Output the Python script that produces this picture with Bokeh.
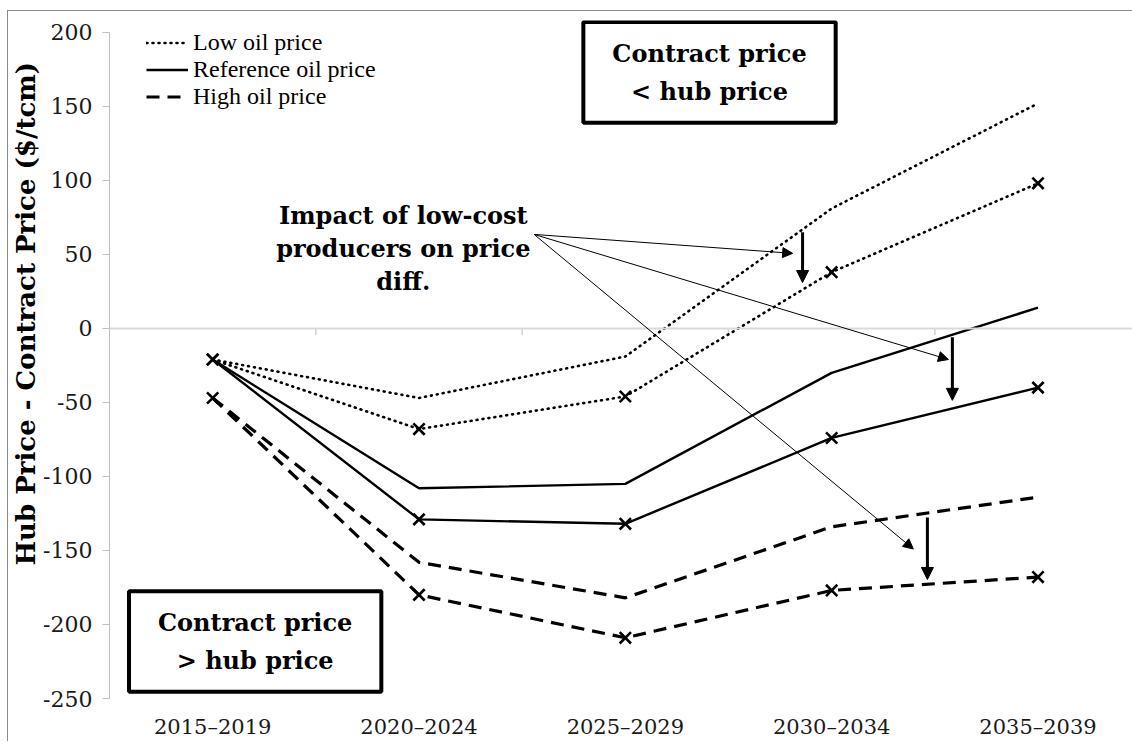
from bokeh.plotting import figure
from bokeh.layouts import column
from bokeh.models import (Range1d, FixedTicker, Span, Legend, LegendItem, Label,
                          Arrow, NormalHead, Title)
from bokeh.embed import file_html
from bokeh.resources import INLINE

# ---------------- data ----------------
categories = ["2015\u20132019", "2020\u20132024", "2025\u20132029", "2030\u20132034", "2035\u20132039"]
low_oil = [-21, -47, -19, 81, 152]            # without low-cost producers
low_oil_lc = [-21, -68, -46, 38, 98]          # with low-cost producers (x markers)
ref_oil = [-21, -108, -105, -30, 14]
ref_oil_lc = [-21, -129, -132, -74, -40]
high_oil = [-47, -158, -182, -134, -114]
high_oil_lc = [-47, -180, -209, -177, -168]
y_ticks = [-250, -200, -150, -100, -50, 0, 50, 100, 150, 200]
legend_labels = ["Low oil price", "Reference oil price", "High oil price"]

xs = list(range(len(categories)))

SERIF = "DejaVu Serif"

p = figure(width=1124, height=730,
           x_range=Range1d(-0.5, 4.458), y_range=Range1d(-250, 208),
           min_border_left=100, min_border_top=9, min_border_right=0, min_border_bottom=43,
           output_backend="svg", toolbar_location=None)
p.outline_line_color = None
p.xgrid.grid_line_color = None
p.ygrid.grid_line_color = None
p.background_fill_color = "white"

# y axis
p.yaxis.ticker = FixedTicker(ticks=y_ticks)
p.yaxis.bounds = (y_ticks[0], y_ticks[-1])
p.yaxis.major_label_overrides = {t: str(t) for t in y_ticks}
p.yaxis.axis_line_color = "#bfbfbf"
p.yaxis.major_tick_line_color = "#bfbfbf"
p.yaxis.major_tick_out = 7
p.yaxis.major_tick_in = 0
p.yaxis.minor_tick_line_color = None
p.yaxis.major_label_standoff = 10
p.yaxis.major_label_text_font = SERIF
p.yaxis.major_label_text_font_size = "22px"
p.yaxis.major_label_text_color = "#1a1a1a"

# x axis (labels only, at bottom)
p.xaxis.ticker = FixedTicker(ticks=xs)
p.xaxis.major_label_overrides = {i: c for i, c in zip(xs, categories)}
p.xaxis.axis_line_color = None
p.xaxis.major_tick_line_color = None
p.xaxis.minor_tick_line_color = None
p.xaxis.major_label_standoff = 10
p.xaxis.major_label_text_font = SERIF
p.xaxis.major_label_text_font_size = "21px"
p.xaxis.major_label_text_color = "#1a1a1a"

# y axis title
p.add_layout(Title(text="Hub Price - Contract Price ($/tcm)", align="left", offset=133,
                   standoff=0, text_font=SERIF, text_font_size="26px",
                   text_font_style="bold", text_color="black"), "left")

# zero line with category boundary ticks
p.add_layout(Span(location=0, dimension="width", line_color="#d9d9d9", line_width=2))
bounds = [i + 0.5 for i in range(len(categories))]
p.segment(x0=bounds, y0=[0] * len(bounds), x1=bounds, y1=[-4.5] * len(bounds),
          line_color="#d0d0d0", line_width=1.5)

DOT = "1 5"
DASH = "13 8"

r_low = p.line(xs, low_oil, line_color="black", line_width=2.6, line_dash=DOT, line_cap="round")
r_ref = p.line(xs, ref_oil, line_color="black", line_width=2.4)
r_high = p.line(xs, high_oil, line_color="black", line_width=3.2, line_dash=DASH)

p.line(xs, low_oil_lc, line_color="black", line_width=2.6, line_dash=DOT, line_cap="round")
p.line(xs, ref_oil_lc, line_color="black", line_width=2.4)
p.line(xs, high_oil_lc, line_color="black", line_width=3.2, line_dash=DASH)
for ser in (low_oil_lc, ref_oil_lc, high_oil_lc):
    p.scatter(xs, ser, marker="x", size=16, line_color="black", line_width=2.6)

legend = Legend(items=[LegendItem(label=legend_labels[0], renderers=[r_low]),
                       LegendItem(label=legend_labels[1], renderers=[r_ref]),
                       LegendItem(label=legend_labels[2], renderers=[r_high])],
                location=(37, 588), orientation="vertical",
                glyph_width=42, glyph_height=27, label_height=27, spacing=0,
                padding=0, margin=0, label_standoff=5,
                label_text_font="Liberation Serif", label_text_font_size="24px",
                label_text_color="black",
                background_fill_alpha=0, border_line_color=None)
p.add_layout(legend)

# annotation boxes
box_style = dict(text_font=SERIF, text_font_size="24px", text_font_style="bold",
                 text_color="black",
                 text_align="center", text_baseline="middle", text_line_height=1.3,
                 border_line_color="black", border_line_width=4,
                 background_fill_color="white", background_fill_alpha=1,
                 padding=dict(left=29, right=29, top=17, bottom=17))
p.add_layout(Label(x=2.408, y=173, text="Contract price\n< hub price", **box_style))
p.add_layout(Label(x=0.206, y=-211.5, text="Contract price\n> hub price", **box_style))

p.add_layout(Label(x=0.924, y=54, text="Impact of low-cost\nproducers on price\ndiff.",
                   text_font=SERIF, text_font_size="24px", text_font_style="bold",
                   text_color="black",
                   text_align="center", text_baseline="middle", text_line_height=1.15))

# thin pointer arrows
ox, oy = 1.558, 63.5
for tx, ty in [(2.811, 50.7), (3.566, -21), (3.396, -149)]:
    p.add_layout(Arrow(x_start=ox, y_start=oy, x_end=tx, y_end=ty, line_width=1,
                       line_color="black",
                       end=NormalHead(size=10, fill_color="black", line_color="black")))

# thick vertical arrows
for ax, y0, y1 in [(2.859, 64.9, 31), (3.585, -6, -48.6), (3.464, -127.7, -169.6)]:
    p.add_layout(Arrow(x_start=ax, y_start=y0, x_end=ax, y_end=y1, line_width=3,
                       line_color="black",
                       end=NormalHead(size=12, fill_color="black", line_color="black")))

layout = column(p, styles={"margin-left": "7px", "margin-top": "10px",
                           "border-top": "1px solid #8c8c8c",
                           "border-left": "1px solid #8c8c8c"})

open("out.html", "w").write(file_html(layout, INLINE))
